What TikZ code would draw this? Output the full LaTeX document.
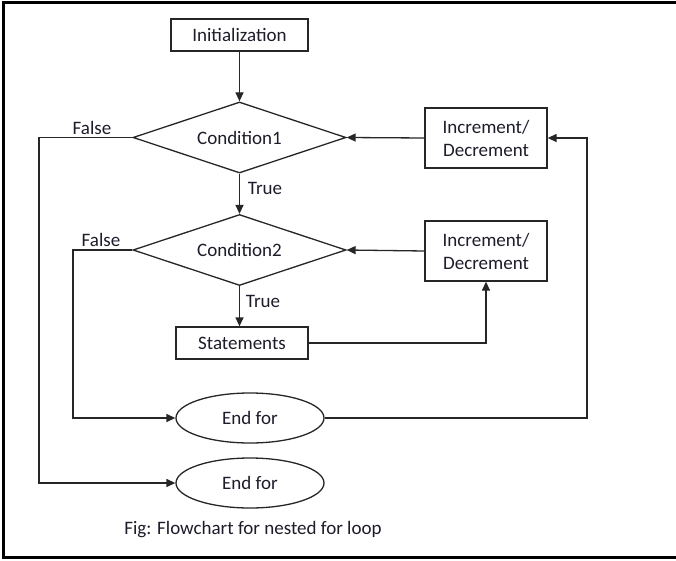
\documentclass[tikz,border=0pt]{standalone}
\usepackage{fontspec}
\setmainfont{Carlito}
\usetikzlibrary{positioning, shapes.geometric, arrows.meta}
\definecolor{FlowInk}{HTML}{262626}
\definecolor{FlowText}{HTML}{1C1C2A}

\begin{document}
\begin{tikzpicture}[x=1pt, y=-1pt, line width=1.3pt, draw=FlowInk,
    every node/.style={font=\fontsize{19}{23}\selectfont, text=FlowText},
    stepbox/.style={draw=FlowInk, rectangle, inner sep=0pt, align=center},
    testbox/.style={draw=FlowInk, diamond, aspect=3, inner sep=0pt, minimum width=213pt, minimum height=71pt},
    endbox/.style={draw=FlowInk, ellipse, inner sep=0pt, minimum width=148pt, minimum height=50pt},
    arr/.style={draw=FlowInk, -{Triangle[length=9pt, width=8pt]}}]
      \useasboundingbox (0,0) rectangle (676,561);
      %% Frame (open on the right)
      \draw[black, line width=3pt, line cap=rect] (676,2.5) -- (3,2.5) -- (3,557.5) -- (676,557.5);
      %% Outer loop
      \node[stepbox, minimum width=137pt, minimum height=32pt] (init) at (239.5,35) {Initialization};
      \node[testbox] (cond1) at (239.5,137.5) {Condition1};
      \node[stepbox, minimum width=122pt, minimum height=60pt] (inc1) at (486,138) {Increment/\\Decrement};
      %% Inner loop
      \node[testbox] (cond2) at (239.5,250) {Condition2};
      \node[stepbox, minimum width=122pt, minimum height=60pt] (inc2) at (486,251) {Increment/\\Decrement};
      \node[stepbox, minimum width=132pt, minimum height=32pt] (stmt) at (242,343) {Statements};
      %% Loop ends
      \node[endbox] (end1) at (250,418) {End for};
      \node[endbox] (end2) at (250,483) {End for};
      \coordinate (exit1) at (39,137.5);
      \coordinate (exit2) at (73,250);
      \coordinate (back1) at (587,418);
      %% Connectors
      \draw[arr] (init) -- (cond1);
      \draw[arr] (cond1) -- (cond2);
      \draw[arr] (cond2.south) -- (cond2.south |- stmt.north);
      \draw[arr] (inc1.west) -- (cond1.east);
      \draw[arr] (inc2.west) -- (cond2.east);
      \draw[arr] (stmt.east) -| (inc2.south);
      \draw[arr] (end1.east) -- (back1) |- (inc1.east);
      \draw[arr] (cond1.west) -- (exit1) |- (end2.west);
      \draw[arr] (cond2.west) -- (exit2) |- (end1.west);
      %% Labels
      \node (false1) at (92,128) {False};
      \node (false2) at (101,240) {False};
      \node (true1) at (265,188) {True};
      \node (true2) at (263,301) {True};
      \node (caption) at (253,530) {Fig: Flowchart for nested for loop};
    \end{tikzpicture}
\end{document}
